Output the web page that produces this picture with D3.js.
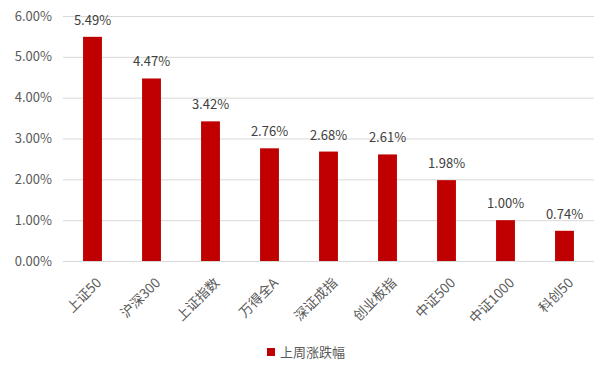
<!DOCTYPE html>
<html>
<head>
<meta charset="utf-8">
<script src="https://cdn.jsdelivr.net/npm/d3@7"></script>
<style>
  body { margin: 0; background: #fff; }
  svg { font-family: "Noto Sans CJK SC", "Noto Sans", sans-serif; }
</style>
</head>
<body>
<svg id="chart" width="611" height="378"></svg>
<script>
const categories = ['上证50', '沪深300', '上证指数', '万得全A', '深证成指', '创业板指', '中证500', '中证1000', '科创50']
const weeklyChange = [5.49, 4.47, 3.42, 2.76, 2.68, 2.61, 1.98, 1.00, 0.74]
const yTicks = [0, 1, 2, 3, 4, 5, 6]
const seriesName = '上周涨跌幅'

const marginLeft = 63
const marginRight = 17
const marginTop = 16
const plotBottom = 261

const svg = d3.select('#chart')
const width = 611 - marginLeft - marginRight
const height = plotBottom - marginTop

const x = d3.scaleBand().domain(categories).range([0, width]).paddingInner(0.68).paddingOuter(0.34)
const y = d3.scaleLinear().domain([0, 6]).range([height, 0])

const g = svg.append('g').attr('transform', `translate(${marginLeft} ${marginTop})`)

// gridlines
g.append('g')
  .selectAll('line')
  .data(yTicks)
  .join('line')
  .attr('x1', 0)
  .attr('x2', width)
  .attr('y1', (d) => y(d) + 0.5)
  .attr('y2', (d) => y(d) + 0.5)
  .attr('stroke', '#d9d9d9')
  .attr('stroke-width', 1)

// y axis labels
g.append('g')
  .selectAll('text')
  .data(yTicks)
  .join('text')
  .attr('x', -11)
  .attr('y', (d) => y(d))
  .attr('dy', '0.35em')
  .attr('text-anchor', 'end')
  .attr('fill', '#595959')
  .attr('font-size', 13)
  .text((d) => d.toFixed(2) + '%')

// bars
g.append('g')
  .selectAll('rect')
  .data(weeklyChange)
  .join('rect')
  .attr('x', (d, i) => x(categories[i]))
  .attr('y', (d) => y(d))
  .attr('width', x.bandwidth())
  .attr('height', (d) => y(0) - y(d))
  .attr('fill', '#c00000')

// data labels
g.append('g')
  .selectAll('text')
  .data(weeklyChange)
  .join('text')
  .attr('x', (d, i) => x(categories[i]) + x.bandwidth() / 2)
  .attr('y', (d) => y(d) - 12)
  .attr('text-anchor', 'middle')
  .attr('fill', '#404040')
  .attr('font-size', 13)
  .text((d) => d.toFixed(2) + '%')

// category labels, rotated
g.append('g')
  .selectAll('text')
  .data(categories)
  .join('text')
  .attr('transform', (d) => `translate(${x(d) + x.bandwidth() / 2 + 3} ${height + 16}) rotate(-45)`)
  .attr('text-anchor', 'end')
  .attr('dy', '0.7em')
  .attr('fill', '#595959')
  .attr('font-size', 13.5)
  .text((d) => d)

// legend
const legend = svg.append('g').attr('transform', 'translate(267 348)')
legend.append('rect').attr('width', 8).attr('height', 8).attr('fill', '#c00000')
legend.append('text')
  .attr('x', 13)
  .attr('y', 4)
  .attr('dy', '0.35em')
  .attr('fill', '#595959')
  .attr('font-size', 13)
  .text(seriesName)
</script>
</body>
</html>
